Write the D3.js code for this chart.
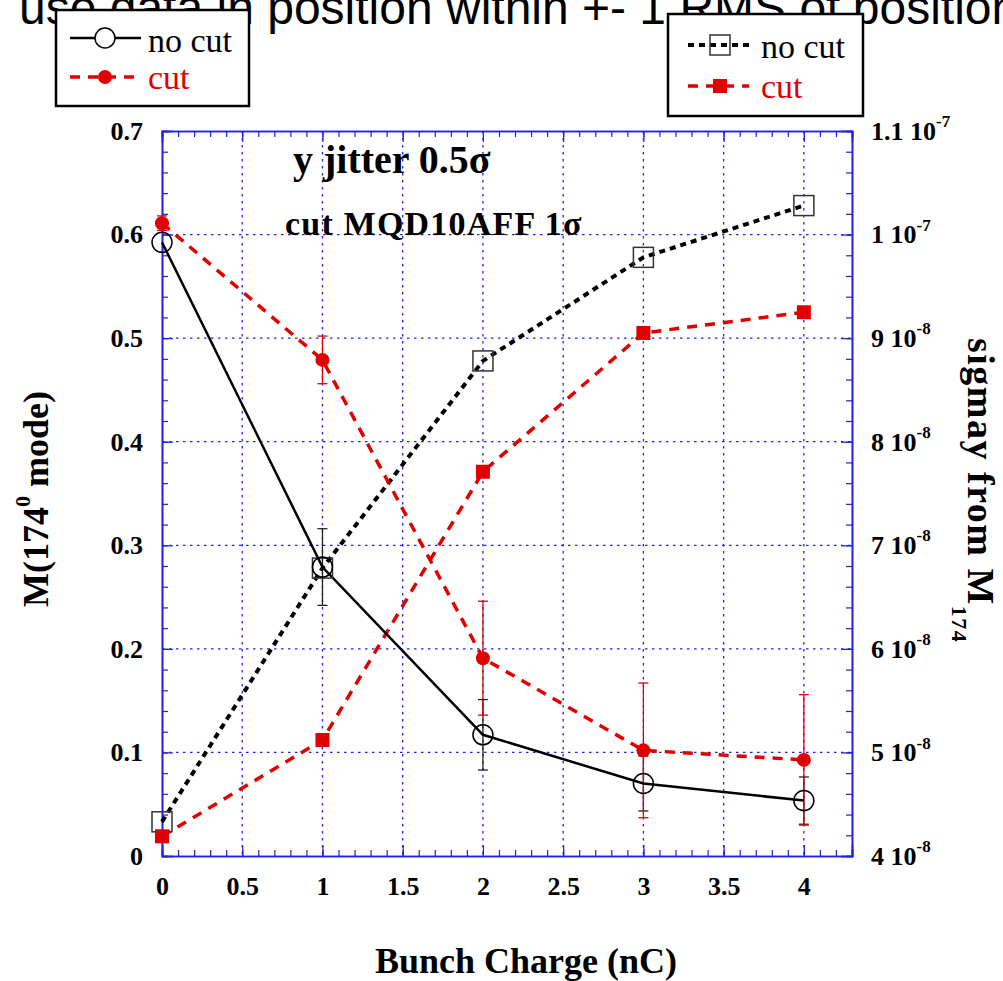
<!DOCTYPE html>
<html>
<head>
<meta charset="utf-8">
<script src="https://cdn.jsdelivr.net/npm/d3@7"></script>
<style>
  html, body { margin: 0; padding: 0; background: #fff; }
  svg { display: block; }
</style>
</head>
<body>
<svg id="chart" width="1003" height="981"></svg>
<script>
// Bunch charge (nC)
const charge = [0, 1, 2, 3, 4];

// M(174 deg mode), left axis
const mNoCut    = [0.5925, 0.279, 0.117, 0.070, 0.0535];
const mNoCutErr = [0.0, 0.037, 0.034, 0.0265, 0.0228];
const mCut      = [0.611, 0.479, 0.191, 0.102, 0.0928];
const mCutErr   = [0.007, 0.023, 0.055, 0.065, 0.063];

// sigma_y from M174, right axis
const sigNoCut = [4.33e-8, 6.78e-8, 8.78e-8, 9.78e-8, 10.28e-8];
const sigCut   = [4.19e-8, 5.12e-8, 7.71e-8, 9.05e-8, 9.25e-8];

// Tick labels
const xTickValues  = [0, 0.5, 1, 1.5, 2, 2.5, 3, 3.5, 4];
const xTickLabels  = ["0", "0.5", "1", "1.5", "2", "2.5", "3", "3.5", "4"];
const yLTickValues = [0, 0.1, 0.2, 0.3, 0.4, 0.5, 0.6, 0.7];
const yLTickLabels = ["0", "0.1", "0.2", "0.3", "0.4", "0.5", "0.6", "0.7"];
const yRTickValues = [4e-8, 5e-8, 6e-8, 7e-8, 8e-8, 9e-8, 1e-7, 1.1e-7];
const yRTickMant   = ["4", "5", "6", "7", "8", "9", "1", "1.1"];
const yRTickExp    = ["-8", "-8", "-8", "-8", "-8", "-8", "-7", "-7"];

const SERIF = '"Liberation Serif", "Times New Roman", serif';
const SANS  = '"Liberation Sans", Arial, sans-serif';

const svg = d3.select("#chart");

const plot = { left: 162, right: 852, top: 131, bottom: 856 };

const x  = d3.scaleLinear().domain([0, 4.3]).range([plot.left, plot.right]);
const yL = d3.scaleLinear().domain([0, 0.7]).range([plot.bottom, plot.top]);
const yR = d3.scaleLinear().domain([4e-8, 1.1e-7]).range([plot.bottom, plot.top]);

const BLUE = "#2020e6";
const RED = "#e00000";

// ---- grid ----
const grid = svg.append("g").attr("class", "grid")
  .attr("stroke", BLUE).attr("stroke-width", 1.3).attr("stroke-dasharray", "2.5,4.5");
grid.selectAll("line.gx").data(xTickValues.filter(v => v > 0)).join("line")
  .attr("class", "gx")
  .attr("x1", d => x(d)).attr("x2", d => x(d))
  .attr("y1", plot.top).attr("y2", plot.bottom);
grid.selectAll("line.gy").data(yLTickValues.filter(v => v > 0 && v < 0.7)).join("line")
  .attr("class", "gy")
  .attr("x1", plot.left).attr("x2", plot.right)
  .attr("y1", d => yL(d)).attr("y2", d => yL(d));

// ---- axes (ticks point inward) ----
const minorX  = d3.range(0, 4.3001, 0.1).map(v => +v.toFixed(2));
const minorYL = d3.range(0, 0.7001, 0.02).map(v => +v.toFixed(3));
const minorYR = d3.range(4e-8, 1.1e-7 + 1e-12, 0.2e-8);

function styleAxis(g) {
  g.select(".domain").attr("stroke", BLUE).attr("stroke-width", 1.6);
  g.selectAll(".tick line").attr("stroke", BLUE).attr("stroke-width", 1.2);
}
function styleLabels(g) {
  g.selectAll(".tick text")
    .style("font-family", SERIF).style("font-size", "26px").style("font-weight", "bold")
    .attr("fill", "#000");
}

// minor ticks
svg.append("g").attr("transform", `translate(0,${plot.bottom})`)
  .call(d3.axisBottom(x).tickValues(minorX).tickSize(-6).tickFormat(""))
  .call(styleAxis);
svg.append("g").attr("transform", `translate(0,${plot.top})`)
  .call(d3.axisTop(x).tickValues(minorX).tickSize(-6).tickFormat(""))
  .call(styleAxis);
svg.append("g").attr("transform", `translate(${plot.left},0)`)
  .call(d3.axisLeft(yL).tickValues(minorYL).tickSize(-6).tickFormat(""))
  .call(styleAxis);
svg.append("g").attr("transform", `translate(${plot.right},0)`)
  .call(d3.axisRight(yR).tickValues(minorYR).tickSize(-6).tickFormat(""))
  .call(styleAxis);

// major ticks with labels
svg.append("g").attr("transform", `translate(0,${plot.bottom})`)
  .call(d3.axisBottom(x).tickValues(xTickValues).tickSize(-11).tickPadding(21)
    .tickFormat((d, i) => xTickLabels[i]))
  .call(styleAxis).call(styleLabels);

svg.append("g").attr("transform", `translate(${plot.left},0)`)
  .call(d3.axisLeft(yL).tickValues(yLTickValues).tickSize(-11).tickPadding(19)
    .tickFormat((d, i) => yLTickLabels[i]))
  .call(styleAxis).call(styleLabels);

const yRAxis = svg.append("g").attr("transform", `translate(${plot.right},0)`)
  .call(d3.axisRight(yR).tickValues(yRTickValues).tickSize(-11).tickPadding(19)
    .tickFormat(""))
  .call(styleAxis).call(styleLabels);
yRAxis.selectAll(".tick").each(function(d, i) {
  const t = d3.select(this).select("text").attr("dy", "0.32em");
  t.text(null);
  t.append("tspan").text(yRTickMant[i] + " 10");
  t.append("tspan").style("font-size", "17px").attr("dy", "-0.75em").text(yRTickExp[i]);
});

svg.append("g").attr("transform", `translate(0,${plot.top})`)
  .call(d3.axisTop(x).tickValues(xTickValues).tickSize(-11).tickFormat(""))
  .call(styleAxis);

// ---- error bars ----
function errorBars(vals, errs, color) {
  const g = svg.append("g").attr("stroke", color).attr("stroke-width", 1.3);
  const data = charge.map((c, i) => ({ c, v: vals[i], e: errs[i] })).filter(d => d.e > 0);
  g.selectAll("line.v").data(data).join("line")
    .attr("class", "v")
    .attr("x1", d => x(d.c)).attr("x2", d => x(d.c))
    .attr("y1", d => yL(d.v - d.e)).attr("y2", d => yL(d.v + d.e));
  ["lo", "hi"].forEach(k => {
    g.selectAll("line.c" + k).data(data).join("line")
      .attr("class", "c" + k)
      .attr("x1", d => x(d.c) - 5).attr("x2", d => x(d.c) + 5)
      .attr("y1", d => yL(k === "lo" ? d.v - d.e : d.v + d.e))
      .attr("y2", d => yL(k === "lo" ? d.v - d.e : d.v + d.e));
  });
}
errorBars(mNoCut, mNoCutErr, "#222");
errorBars(mCut, mCutErr, RED);

// ---- lines ----
function series(vals, scale, color, width, dash) {
  const line = d3.line().x((d, i) => x(charge[i])).y(d => scale(d));
  svg.append("path").datum(vals)
    .attr("d", line).attr("fill", "none")
    .attr("stroke", color).attr("stroke-width", width)
    .attr("stroke-dasharray", dash);
}
series(sigNoCut, yR, "#000", 4, "6,5");
series(sigCut, yR, RED, 3.5, "10,8");
series(mCut, yL, RED, 3.5, "10,8");
series(mNoCut, yL, "#000", 2.5, null);

// ---- markers ----
svg.append("g").selectAll("rect").data(sigNoCut).join("rect")
  .attr("x", (d, i) => x(charge[i]) - 10).attr("y", d => yR(d) - 10)
  .attr("width", 20).attr("height", 20)
  .attr("fill", "none").attr("stroke", "#333").attr("stroke-width", 1.5);
svg.append("g").selectAll("rect").data(sigCut).join("rect")
  .attr("x", (d, i) => x(charge[i]) - 7).attr("y", d => yR(d) - 7)
  .attr("width", 14).attr("height", 14).attr("fill", RED);
svg.append("g").selectAll("circle").data(mNoCut).join("circle")
  .attr("cx", (d, i) => x(charge[i])).attr("cy", d => yL(d)).attr("r", 10)
  .attr("fill", "none").attr("stroke", "#000").attr("stroke-width", 1.5);
svg.append("g").selectAll("circle").data(mCut).join("circle")
  .attr("cx", (d, i) => x(charge[i])).attr("cy", d => yL(d)).attr("r", 7)
  .attr("fill", RED);

// ---- text helper ----
function label(px, py, str, size, opts = {}) {
  return svg.append("text").attr("x", px).attr("y", py)
    .style("font-family", opts.family || SERIF)
    .style("font-size", size + "px")
    .style("font-weight", opts.bold ? "bold" : "normal")
    .style("letter-spacing", opts.spacing ? opts.spacing + "px" : null)
    .attr("text-anchor", opts.anchor || "start")
    .attr("fill", opts.color || "#000")
    .text(str);
}

// ---- annotations ----
label(293, 173, "y jitter 0.5σ", 40, { bold: true });
label(285, 235, "cut MQD10AFF 1σ", 34, { bold: true, spacing: 1.2 });

// ---- axis titles ----
label(526, 973, "Bunch Charge (nC)", 36, { bold: true, anchor: "middle" });

const yLTitle = svg.append("text")
  .attr("transform", "translate(48,499) rotate(-90)")
  .attr("text-anchor", "middle")
  .style("font-family", SERIF).style("font-size", "36px").style("font-weight", "bold");
yLTitle.append("tspan").text("M(174");
yLTitle.append("tspan").style("font-size", "22px").attr("dy", "-0.8em").text("0");
yLTitle.append("tspan").attr("dy", "0.49em").text(" mode)");

const yRTitle = svg.append("text")
  .attr("transform", "translate(968,338) rotate(90)")
  .attr("text-anchor", "start")
  .style("font-family", SERIF).style("font-size", "38px").style("font-weight", "bold")
  .style("letter-spacing", "1.5px");
yRTitle.append("tspan").text("sigmay from M");
yRTitle.append("tspan").style("font-size", "22px").attr("dy", "0.75em").text("174");

// ---- page title (runs off the top edge) ----
label(19, 24, "use data in position within +- 1 RMS of position", 48, { family: SANS });

// ---- legends ----
function legendBox(x0, y0, w, h) {
  svg.append("rect").attr("x", x0).attr("y", y0).attr("width", w).attr("height", h)
    .attr("fill", "#fff").attr("stroke", "#000").attr("stroke-width", 2.5);
}

// left legend: M(174) series
legendBox(56, 10, 193, 96);
svg.append("line").attr("x1", 70).attr("x2", 141).attr("y1", 38).attr("y2", 38)
  .attr("stroke", "#000").attr("stroke-width", 2.5);
svg.append("circle").attr("cx", 105).attr("cy", 38).attr("r", 10)
  .attr("fill", "#fff").attr("stroke", "#000").attr("stroke-width", 1.5);
label(148, 52, "no cut", 34);
svg.append("line").attr("x1", 70).attr("x2", 141).attr("y1", 77).attr("y2", 77)
  .attr("stroke", RED).attr("stroke-width", 3.5).attr("stroke-dasharray", "10,8");
svg.append("circle").attr("cx", 105).attr("cy", 77).attr("r", 7).attr("fill", RED);
label(148, 89, "cut", 34, { color: RED });

// right legend: sigma series
legendBox(668, 14, 195, 102);
svg.append("line").attr("x1", 688).attr("x2", 749).attr("y1", 45).attr("y2", 45)
  .attr("stroke", "#000").attr("stroke-width", 4).attr("stroke-dasharray", "6,5");
svg.append("rect").attr("x", 710).attr("y", 35).attr("width", 20).attr("height", 20)
  .attr("fill", "none").attr("stroke", "#333").attr("stroke-width", 1.5);
label(761, 58, "no cut", 34);
svg.append("line").attr("x1", 688).attr("x2", 749).attr("y1", 86).attr("y2", 86)
  .attr("stroke", RED).attr("stroke-width", 3.5).attr("stroke-dasharray", "10,8");
svg.append("rect").attr("x", 713).attr("y", 79).attr("width", 14).attr("height", 14).attr("fill", RED);
label(761, 98, "cut", 34, { color: RED });
</script>
</body>
</html>
